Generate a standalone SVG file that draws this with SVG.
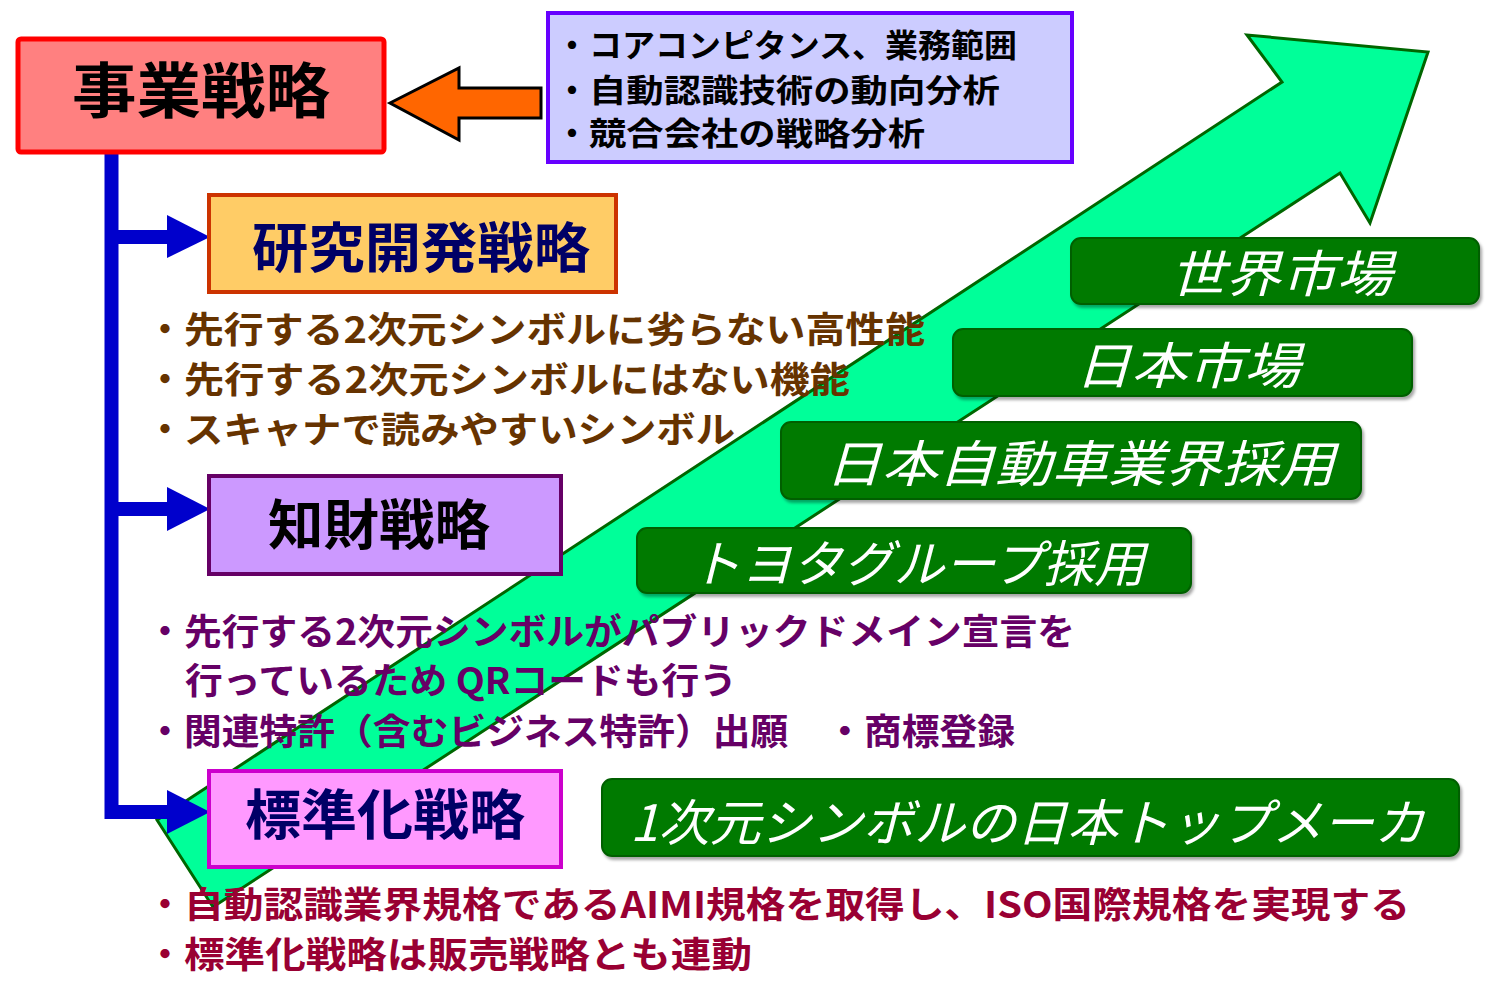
<svg xmlns="http://www.w3.org/2000/svg" width="1500" height="984" viewBox="0 0 1500 984">
<defs>
<style>
.jp{font-family:"Noto Sans CJK JP","Noto Sans CJK SC",sans-serif;}
.title{font-weight:bold;font-size:54px;}
.body{font-weight:bold;font-size:36px;}
.lbl{font-size:50px;font-style:italic;fill:#ffffff;}
.lblbox{fill:#007A00;stroke:#005F00;stroke-width:2;}
.blue{fill:none;stroke:#0000CC;stroke-width:14;}
</style>
<filter id="sh" x="-5%" y="-10%" width="110%" height="130%">
<feDropShadow dx="2" dy="3" stdDeviation="1.5" flood-color="#000" flood-opacity="0.35"/>
</filter>
</defs>
<rect width="1500" height="984" fill="#ffffff"/>

<g id="growth-arrow">
<polygon points="157,820 1282,82 1247,35 1428,52 1370,223 1340,173 213,907" fill="#00FF99" stroke="#006600" stroke-width="3" stroke-linejoin="miter"/>
</g>

<g id="connectors">
<polygon points="390,103 459,68 459,88 541,88 541,118 459,118 459,140" fill="#FF6600" stroke="#000000" stroke-width="3"/>
<path class="blue" d="M111.5,153 V812 H170"/>
<path class="blue" d="M111.5,237 H170"/>
<path class="blue" d="M111.5,509 H170"/>
<polygon points="167,215 210,237 167,258" fill="#0000CC"/>
<polygon points="167,487 210,509 167,531" fill="#0000CC"/>
<polygon points="167,790 210,812 167,834" fill="#0000CC"/>
</g>

<g id="jigyo">
<rect x="18" y="39" width="366" height="113" rx="3" fill="#FF8080" stroke="#FF0000" stroke-width="5"/>
<text class="jp" x="72" y="113" font-size="60" font-weight="bold" textLength="258" lengthAdjust="spacingAndGlyphs">事業戦略</text>
</g>

<g id="inputs">
<rect x="548" y="13" width="524" height="149" fill="#CCCCFF" stroke="#6600FF" stroke-width="4"/>
<g class="jp" font-size="32" font-weight="bold" fill="#000">
<text y="57"><tspan x="556">・</tspan><tspan x="589" textLength="428" lengthAdjust="spacingAndGlyphs">コアコンピタンス、業務範囲</tspan></text>
<text y="102"><tspan x="556">・</tspan><tspan x="589" textLength="411" lengthAdjust="spacingAndGlyphs">自動認識技術の動向分析</tspan></text>
<text y="145"><tspan x="556">・</tspan><tspan x="589" textLength="336" lengthAdjust="spacingAndGlyphs">競合会社の戦略分析</tspan></text>
</g>
</g>

<g id="rd">
<rect x="209" y="195" width="407" height="97" fill="#FFCC66" stroke="#CC3300" stroke-width="4"/>
<text class="jp title" x="252" y="268" fill="#000066" textLength="338" lengthAdjust="spacingAndGlyphs">研究開発戦略</text>
</g>
<g id="rd-text" class="jp body" fill="#663300">
<text y="343"><tspan x="147">・</tspan><tspan x="184" textLength="741" lengthAdjust="spacingAndGlyphs">先行する2次元シンボルに劣らない高性能</tspan></text>
<text y="393"><tspan x="147">・</tspan><tspan x="184" textLength="666" lengthAdjust="spacingAndGlyphs">先行する2次元シンボルにはない機能</tspan></text>
<text y="443"><tspan x="147">・</tspan><tspan x="184" textLength="551" lengthAdjust="spacingAndGlyphs">スキャナで読みやすいシンボル</tspan></text>
</g>

<g id="ip">
<rect x="209" y="476" width="352" height="98" fill="#CC99FF" stroke="#660066" stroke-width="4"/>
<text class="jp title" x="268" y="545" fill="#000000" textLength="222" lengthAdjust="spacingAndGlyphs">知財戦略</text>
</g>
<g id="ip-text" class="jp body" fill="#660066">
<text y="645"><tspan x="147">・</tspan><tspan x="184" textLength="891" lengthAdjust="spacingAndGlyphs">先行する2次元シンボルがパブリックドメイン宣言を</tspan></text>
<text x="185" y="694" textLength="552" lengthAdjust="spacingAndGlyphs">行っているため QRコードも行う</text>
<text y="745"><tspan x="147">・</tspan><tspan x="184" textLength="831" lengthAdjust="spacingAndGlyphs">関連特許（含むビジネス特許）出願　・商標登録</tspan></text>
</g>

<g id="std">
<rect x="209" y="771" width="352" height="96" fill="#FF99FF" stroke="#CC00CC" stroke-width="4"/>
<text class="jp title" x="245" y="835" fill="#000066" textLength="280" lengthAdjust="spacingAndGlyphs">標準化戦略</text>
</g>
<g id="std-text" class="jp body" fill="#990033">
<text y="918"><tspan x="147">・</tspan><tspan x="184" textLength="1226" lengthAdjust="spacingAndGlyphs">自動認識業界規格であるAIMI規格を取得し、ISO国際規格を実現する</tspan></text>
<text y="968"><tspan x="147">・</tspan><tspan x="184" textLength="568" lengthAdjust="spacingAndGlyphs">標準化戦略は販売戦略とも連動</tspan></text>
</g>

<g id="world" filter="url(#sh)">
<rect class="lblbox" x="1071" y="238" width="408" height="66" rx="10"/>
<text class="jp lbl" x="1170" y="292" textLength="222" lengthAdjust="spacingAndGlyphs">世界市場</text>
</g>
<g id="japan" filter="url(#sh)">
<rect class="lblbox" x="953" y="329" width="459" height="67" rx="10"/>
<text class="jp lbl" x="1075" y="384" textLength="225" lengthAdjust="spacingAndGlyphs">日本市場</text>
</g>
<g id="auto" filter="url(#sh)">
<rect class="lblbox" x="781" y="422" width="580" height="77" rx="10"/>
<text class="jp lbl" x="825" y="482" textLength="510" lengthAdjust="spacingAndGlyphs">日本自動車業界採用</text>
</g>
<g id="toyota" filter="url(#sh)">
<rect class="lblbox" x="637" y="528" width="554" height="65" rx="10"/>
<text class="jp lbl" x="690" y="582" textLength="455" lengthAdjust="spacingAndGlyphs">トヨタグループ採用</text>
</g>
<g id="top" filter="url(#sh)">
<rect class="lblbox" x="602" y="779" width="857" height="77" rx="10"/>
<text class="jp lbl" x="630" y="841" textLength="795" lengthAdjust="spacingAndGlyphs">1次元シンボルの日本トップメーカ</text>
</g>
</svg>
